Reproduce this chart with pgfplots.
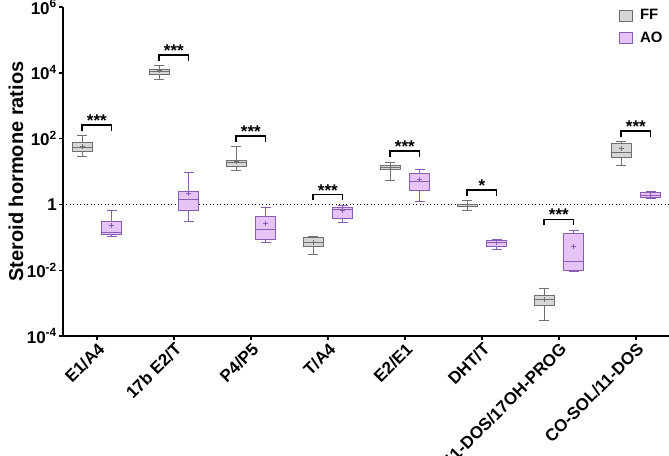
\documentclass[border=0pt]{standalone}
\usepackage{pgfplots}
\pgfplotsset{compat=1.18}
\usepgfplotslibrary{statistics}
\usepackage{fontspec}
\setmainfont{Liberation Sans}

\definecolor{ffgray}{HTML}{D6D6D6}
\definecolor{ffedge}{HTML}{6F6F6F}
\definecolor{aofill}{HTML}{E6C4F6}
\definecolor{aoedge}{HTML}{8A5CB5}

\pgfplotsset{
  bx/.style={forget plot, line width=0.8pt, boxplot/draw direction=y,
    boxplot/box extend=0.26, boxplot/whisker extend=0.13,
    boxplot/every average/.style={/tikz/mark=+, /tikz/mark size=2.5pt}},
  ff/.style={bx, draw=ffedge, fill=ffgray},
  ao/.style={bx, draw=aoedge, fill=aofill},
  brk/.style={forget plot, black, line width=1.7pt},
}

\begin{document}
\begin{tikzpicture}
\begin{axis}[
  scale only axis, width=606pt, height=329pt,
  xmin=-0.44, xmax=7.43, ymode=log, ymin=1e-4, ymax=1e6,
  axis x line*=bottom, axis y line*=left,
  axis line style={-, line width=2.2pt},
  xtick={0,...,7},
  xticklabels={E1/A4,17b E2/T,P4/P5,T/A4,E2/E1,DHT/T,11-DOS/17OH-PROG,CO-SOL/11-DOS},
  xticklabel style={rotate=45, anchor=north east, inner sep=1pt,
    font=\bfseries\fontsize{17}{17}\selectfont},
  ytick={1e-4,1e-2,1,1e2,1e4,1e6},
  yticklabels={10\textsuperscript{-4},10\textsuperscript{-2},1,10\textsuperscript{2},10\textsuperscript{4},10\textsuperscript{6}},
  yticklabel style={font=\bfseries\fontsize{17}{17}\selectfont, inner sep=2pt},
  yminorticks=false, xminorticks=false,
  tick align=outside, major tick length=4pt, tick style={black, line width=1.4pt},
  ylabel={Steroid hormone ratios},
  ylabel style={font=\bfseries\fontsize{20}{20}\selectfont, yshift=-2pt},
  clip=false,
  legend style={at={(0.9176,0.999)}, anchor=north west, draw=none, fill=none,
    font=\bfseries\fontsize{15}{15}\selectfont, row sep=7pt, inner sep=0pt},
  legend cell align=left,
]
% reference line at 1
\addplot[forget plot, black, line width=1pt, dash pattern=on 1pt off 2.5pt] coordinates {(-0.44,1)(7.43,1)};

% E1/A4
\addplot[ff, boxplot prepared={draw position=-0.19, lower whisker=28.8, lower quartile=39.8, median=55.0, upper quartile=77.6, upper whisker=123, average=58.9}] coordinates {};
\addplot[ao, boxplot prepared={draw position=0.19, lower whisker=0.105, lower quartile=0.120, median=0.145, upper quartile=0.302, upper whisker=0.661, average=0.224}] coordinates {};
% 17b E2/T
\addplot[ff, boxplot prepared={draw position=0.81, lower whisker=6166, lower quartile=8710, median=10965, upper quartile=12882, upper whisker=16982, average=11482}] coordinates {};
\addplot[ao, boxplot prepared={draw position=1.19, lower whisker=0.295, lower quartile=0.661, median=1.38, upper quartile=2.45, upper whisker=9.12, average=2.09}] coordinates {};
% P4/P5
\addplot[ff, boxplot prepared={draw position=1.81, lower whisker=10.5, lower quartile=14.5, median=18.6, upper quartile=22.4, upper whisker=56.2, average=20.4}] coordinates {};
\addplot[ao, boxplot prepared={draw position=2.19, lower whisker=0.0708, lower quartile=0.0891, median=0.178, upper quartile=0.447, upper whisker=0.794, average=0.257}] coordinates {};
% T/A4
\addplot[ff, boxplot prepared={draw position=2.81, lower whisker=0.0302, lower quartile=0.0537, median=0.0708, upper quartile=0.0977, upper whisker=0.110, average=0.0676}] coordinates {};
\addplot[ao, boxplot prepared={draw position=3.19, lower whisker=0.282, lower quartile=0.372, median=0.724, upper quartile=0.832, upper whisker=0.912, average=0.661}] coordinates {};
% E2/E1
\addplot[ff, boxplot prepared={draw position=3.81, lower whisker=5.25, lower quartile=11.2, median=13.8, upper quartile=15.8, upper whisker=19.1, average=13.2}] coordinates {};
\addplot[ao, boxplot prepared={draw position=4.19, lower whisker=1.20, lower quartile=2.63, median=4.90, upper quartile=8.51, upper whisker=11.7, average=5.62}] coordinates {};
% DHT/T
\addplot[ff, boxplot prepared={draw position=4.81, lower whisker=0.646, lower quartile=0.89, median=0.98, upper quartile=1.02, upper whisker=1.29, average=1.0}] coordinates {};
\addplot[ao, boxplot prepared={draw position=5.19, lower whisker=0.0427, lower quartile=0.0525, median=0.0692, upper quartile=0.0832, upper whisker=0.0851, average=0.0692}] coordinates {};
% 11-DOS/17OH-PROG
\addplot[ff, boxplot prepared={draw position=5.81, lower whisker=0.000302, lower quartile=0.000851, median=0.00126, upper quartile=0.00166, upper whisker=0.00288, average=0.00126}] coordinates {};
\addplot[ao, boxplot prepared={draw position=6.19, lower whisker=0.00912, lower quartile=0.00977, median=0.0182, upper quartile=0.129, upper whisker=0.158, average=0.0537}] coordinates {};
% CO-SOL/11-DOS
\addplot[ff, boxplot prepared={draw position=6.81, lower whisker=15.8, lower quartile=26.3, median=37.2, upper quartile=72.4, upper whisker=83.2, average=49.0}] coordinates {};
\addplot[ao, boxplot prepared={draw position=7.19, lower whisker=1.48, lower quartile=1.58, median=1.91, upper quartile=2.24, upper whisker=2.40, average=1.91}] coordinates {};

% significance brackets
\addplot[brk] coordinates {(-0.19,174)(-0.19,260)(0.19,260)(0.19,174)};
\addplot[brk] coordinates {(0.81,22909)(0.81,35075)(1.19,35075)(1.19,22909)};
\addplot[brk] coordinates {(1.81,77.6)(1.81,117.5)(2.19,117.5)(2.19,77.6)};
\addplot[brk] coordinates {(2.81,1.38)(2.81,2.0)(3.19,2.0)(3.19,1.38)};
\addplot[brk] coordinates {(3.81,28.5)(3.81,41.2)(4.19,41.2)(4.19,28.5)};
\addplot[brk] coordinates {(4.81,1.82)(4.81,2.79)(5.19,2.79)(5.19,1.82)};
\addplot[brk] coordinates {(5.81,0.229)(5.81,0.351)(6.19,0.351)(6.19,0.229)};
\addplot[brk] coordinates {(6.81,115)(6.81,170)(7.19,170)(7.19,115)};

\begin{scope}[every node/.style={anchor=base, yshift=-1.5pt, font=\bfseries\fontsize{17}{17}\selectfont}]
\node at (axis cs:0,260) {***};
\node at (axis cs:1,35075) {***};
\node at (axis cs:2,117.5) {***};
\node at (axis cs:3,2.0) {***};
\node at (axis cs:4,41.2) {***};
\node at (axis cs:5,2.79) {*};
\node at (axis cs:6,0.351) {***};
\node at (axis cs:7,170) {***};
\end{scope}

\addlegendimage{legend image code/.code={\draw[fill=ffgray, draw=ffedge, line width=0.8pt] (0pt,-5.5pt) rectangle (13pt,5.5pt);}}
\addlegendimage{legend image code/.code={\draw[fill=aofill, draw=aoedge, line width=0.8pt] (0pt,-5.5pt) rectangle (13pt,5.5pt);}}
\legend{\hspace{5pt}FF,\hspace{5pt}AO}
\end{axis}
\pgfresetboundingbox
\path ([xshift=-63pt, yshift=-120pt]current axis.south west) rectangle ([yshift=7pt]current axis.north east);
\end{tikzpicture}
\end{document}
